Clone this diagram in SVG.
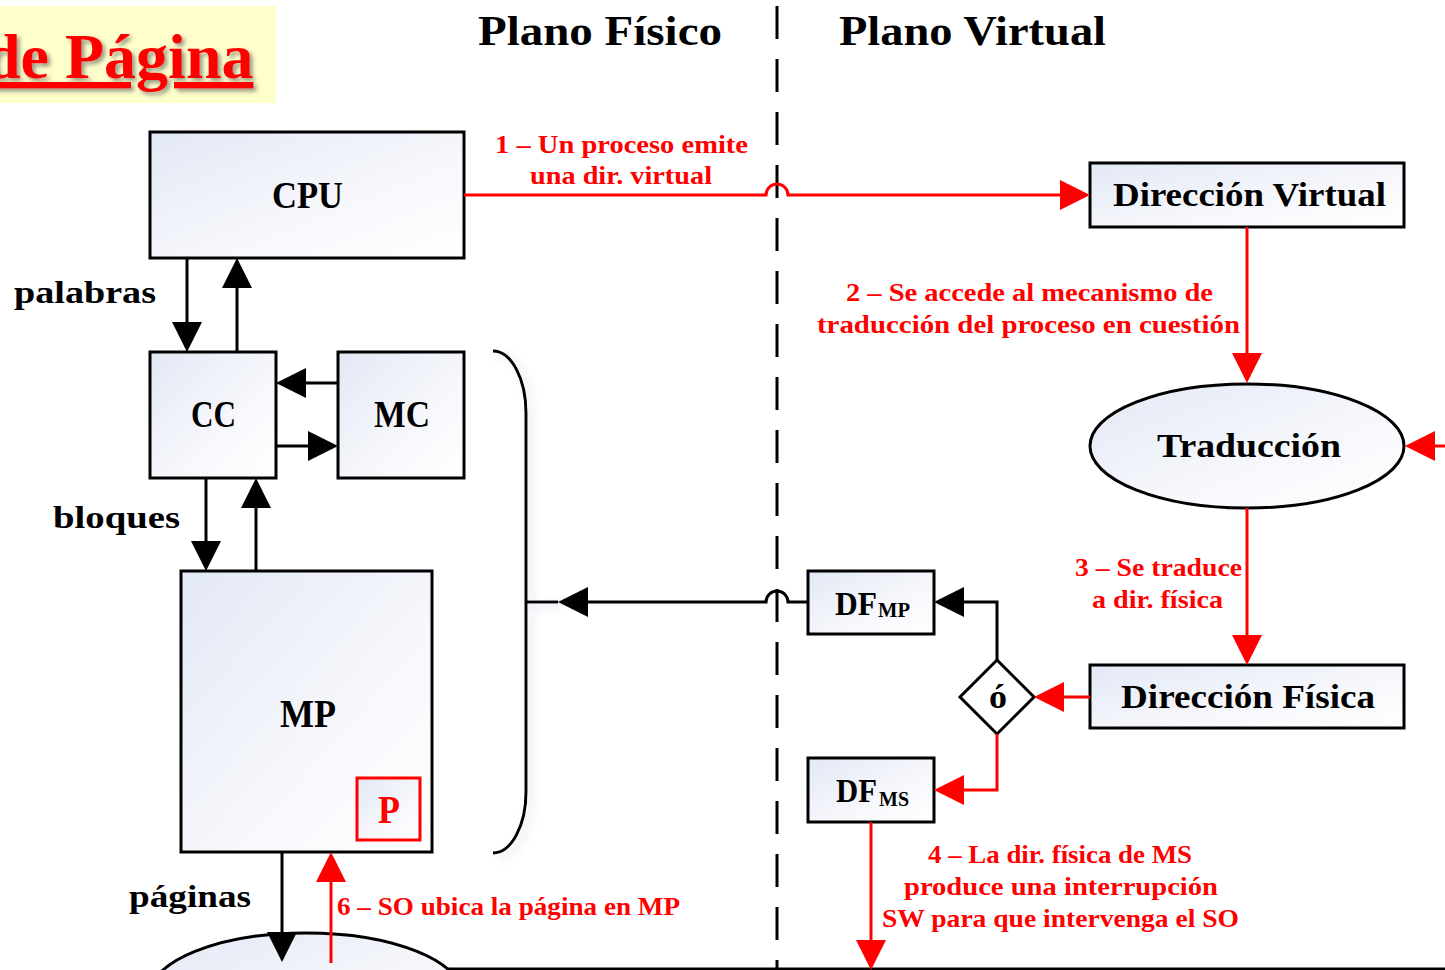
<svg xmlns="http://www.w3.org/2000/svg" width="1445" height="970" viewBox="0 0 1445 970">
<style>
.box{fill:url(#boxfill);stroke:#000;stroke-width:3}
.lbl{font-family:"Liberation Serif","Times New Roman",serif;font-weight:bold;fill:#000}
.red{font-family:"Liberation Serif","Times New Roman",serif;font-weight:bold;fill:#FF0000;font-size:25px}
.ck{fill:none;stroke:#000;stroke-width:3}
.cr{fill:none;stroke:#FF0000;stroke-width:3}
</style>
<defs>
<linearGradient id="boxfill" x1="0" y1="0" x2="1" y2="1">
<stop offset="0" stop-color="#E2E8F5"/>
<stop offset="0.6" stop-color="#F7F8FC"/>
<stop offset="1" stop-color="#FFFFFF"/>
</linearGradient>
<marker id="ak" markerUnits="userSpaceOnUse" markerWidth="30" markerHeight="30" viewBox="0 0 30 30" refX="25" refY="15" orient="auto"><path d="M0,0 L30,15 L0,30 z" fill="#000"/></marker>
<marker id="ar" markerUnits="userSpaceOnUse" markerWidth="30" markerHeight="30" viewBox="0 0 30 30" refX="25" refY="15" orient="auto"><path d="M0,0 L30,15 L0,30 z" fill="#FF0000"/></marker>
<filter id="tshadow" x="-10%" y="-20%" width="130%" height="150%"><feDropShadow dx="3" dy="3" stdDeviation="2" flood-color="#555" flood-opacity="0.6"/></filter>
<filter id="bshadow" x="-50%" y="-10%" width="200%" height="120%"><feDropShadow dx="5" dy="4" stdDeviation="4" flood-color="#9AA8C8" flood-opacity="0.35"/></filter>
</defs>

<g id="title">
<rect x="0" y="6" width="276" height="97" fill="#FFFFCC"/>
<text x="-15" y="78" font-family="'Liberation Serif','Times New Roman',serif" font-weight="bold" font-size="64" fill="#FF0000" text-decoration="underline" filter="url(#tshadow)">de Página</text>
</g>

<g id="headers">
<text class="lbl" x="478" y="45" font-size="43" textLength="244" lengthAdjust="spacingAndGlyphs">Plano Físico</text>
<text class="lbl" x="839" y="45" font-size="43" textLength="267" lengthAdjust="spacingAndGlyphs">Plano Virtual</text>
</g>

<g id="divider">
<line x1="777" y1="6" x2="777" y2="970" stroke="#000" stroke-width="3" stroke-dasharray="33 20"/>
<line x1="370" y1="969" x2="1445" y2="969" stroke="#000" stroke-width="3"/>
</g>

<g id="brace" filter="url(#bshadow)">
<path class="ck" d="M493,351 A33,62 0 0 1 526,413 V792 A33,61 0 0 1 493,853 M526,602 H558"/>
</g>

<g id="cpu">
<rect class="box" x="150" y="132" width="314" height="126"/>
<text class="lbl" x="272" y="208" font-size="38" textLength="71" lengthAdjust="spacingAndGlyphs">CPU</text>
</g>

<g id="cc">
<rect class="box" x="150" y="352" width="126" height="126"/>
<text class="lbl" x="191" y="427" font-size="37" textLength="45" lengthAdjust="spacingAndGlyphs">CC</text>
</g>

<g id="mc">
<rect class="box" x="338" y="352" width="126" height="126"/>
<text class="lbl" x="374" y="427" font-size="37" textLength="56" lengthAdjust="spacingAndGlyphs">MC</text>
</g>

<g id="mp">
<rect class="box" x="181" y="571" width="251" height="281"/>
<text class="lbl" x="280" y="727" font-size="39" textLength="56" lengthAdjust="spacingAndGlyphs">MP</text>
</g>

<g id="page">
<rect x="357" y="778" width="63" height="62" fill="url(#boxfill)" stroke="#FF0000" stroke-width="3"/>
<text x="378" y="823" font-family="'Liberation Serif','Times New Roman',serif" font-weight="bold" font-size="39" fill="#FF0000" textLength="22" lengthAdjust="spacingAndGlyphs">P</text>
</g>

<g id="ms">
<ellipse class="box" cx="306" cy="996" rx="157" ry="63"/>
</g>

<g id="dir-virtual">
<rect class="box" x="1090" y="163" width="314" height="64"/>
<text class="lbl" x="1113" y="206" font-size="34" textLength="273" lengthAdjust="spacingAndGlyphs">Dirección Virtual</text>
</g>

<g id="traduccion">
<ellipse class="box" cx="1247" cy="446" rx="157" ry="62"/>
<text class="lbl" x="1157" y="457" font-size="33" textLength="184" lengthAdjust="spacingAndGlyphs">Traducción</text>
</g>

<g id="dir-fisica">
<rect class="box" x="1090" y="665" width="314" height="63"/>
<text class="lbl" x="1121" y="708" font-size="34" textLength="254" lengthAdjust="spacingAndGlyphs">Dirección Física</text>
</g>

<g id="decision">
<polygon points="997,660 1034,697 997,734 960,697" fill="#FFFFFF" stroke="#000" stroke-width="3"/>
<text class="lbl" x="989" y="708" font-size="34" textLength="18" lengthAdjust="spacingAndGlyphs">ó</text>
</g>

<g id="df-mp">
<rect class="box" x="808" y="571" width="126" height="63"/>
<text class="lbl" x="835" y="615" font-size="34" textLength="42" lengthAdjust="spacingAndGlyphs">DF</text>
<text class="lbl" x="878" y="617" font-size="22" textLength="32" lengthAdjust="spacingAndGlyphs">MP</text>
</g>

<g id="df-ms">
<rect class="box" x="808" y="758" width="126" height="64"/>
<text class="lbl" x="836" y="802" font-size="34" textLength="41" lengthAdjust="spacingAndGlyphs">DF</text>
<text class="lbl" x="879" y="806" font-size="22" textLength="30" lengthAdjust="spacingAndGlyphs">MS</text>
</g>

<g id="connectors">
<path class="ck" d="M187,258 V347" marker-end="url(#ak)"/>
<path class="ck" d="M237,352 V263" marker-end="url(#ak)"/>
<path class="ck" d="M338,383 H281" marker-end="url(#ak)"/>
<path class="ck" d="M276,446 H333" marker-end="url(#ak)"/>
<path class="ck" d="M206,478 V566" marker-end="url(#ak)"/>
<path class="ck" d="M256,571 V483" marker-end="url(#ak)"/>
<path class="ck" d="M282,852 V957" marker-end="url(#ak)"/>
<path class="cr" d="M331,963 V857" marker-end="url(#ar)"/>
<path class="cr" d="M464,195 H766 A11,11 0 0 1 788,195 H1085" marker-end="url(#ar)"/>
<path class="cr" d="M1247,227 V378" marker-end="url(#ar)"/>
<path class="cr" d="M1445,446 H1410" marker-end="url(#ar)"/>
<path class="cr" d="M1247,508 V660" marker-end="url(#ar)"/>
<path class="cr" d="M1090,697 H1039" marker-end="url(#ar)"/>
<path class="ck" d="M997,660 V602 H939" marker-end="url(#ak)"/>
<path class="cr" d="M997,734 V790 H939" marker-end="url(#ar)"/>
<path class="cr" d="M871,822 V965" marker-end="url(#ar)"/>
<path class="ck" d="M808,602 H788 A11,11 0 0 0 766,602 H563" marker-end="url(#ak)"/>
</g>

<g id="labels">
<text class="lbl" x="14" y="303" font-size="31" textLength="142" lengthAdjust="spacingAndGlyphs">palabras</text>
<text class="lbl" x="53" y="528" font-size="31" textLength="127" lengthAdjust="spacingAndGlyphs">bloques</text>
<text class="lbl" x="129" y="907" font-size="31" textLength="122" lengthAdjust="spacingAndGlyphs">páginas</text>
<text class="red" x="495" y="153" textLength="253" lengthAdjust="spacingAndGlyphs">1 – Un proceso emite</text>
<text class="red" x="530" y="184" textLength="182" lengthAdjust="spacingAndGlyphs">una dir. virtual</text>
<text class="red" x="846" y="301" textLength="367" lengthAdjust="spacingAndGlyphs">2 – Se accede al mecanismo de</text>
<text class="red" x="817" y="333" textLength="423" lengthAdjust="spacingAndGlyphs">traducción del proceso en cuestión</text>
<text class="red" x="1075" y="576" textLength="167" lengthAdjust="spacingAndGlyphs">3 – Se traduce</text>
<text class="red" x="1092" y="608" textLength="131" lengthAdjust="spacingAndGlyphs">a dir. física</text>
<text class="red" x="928" y="863" textLength="264" lengthAdjust="spacingAndGlyphs">4 – La dir. física de MS</text>
<text class="red" x="904" y="895" textLength="314" lengthAdjust="spacingAndGlyphs">produce una interrupción</text>
<text class="red" x="882" y="927" textLength="357" lengthAdjust="spacingAndGlyphs">SW para que intervenga el SO</text>
<text class="red" x="337" y="915" textLength="343" lengthAdjust="spacingAndGlyphs">6 – SO ubica la página en MP</text>
</g>
</svg>
